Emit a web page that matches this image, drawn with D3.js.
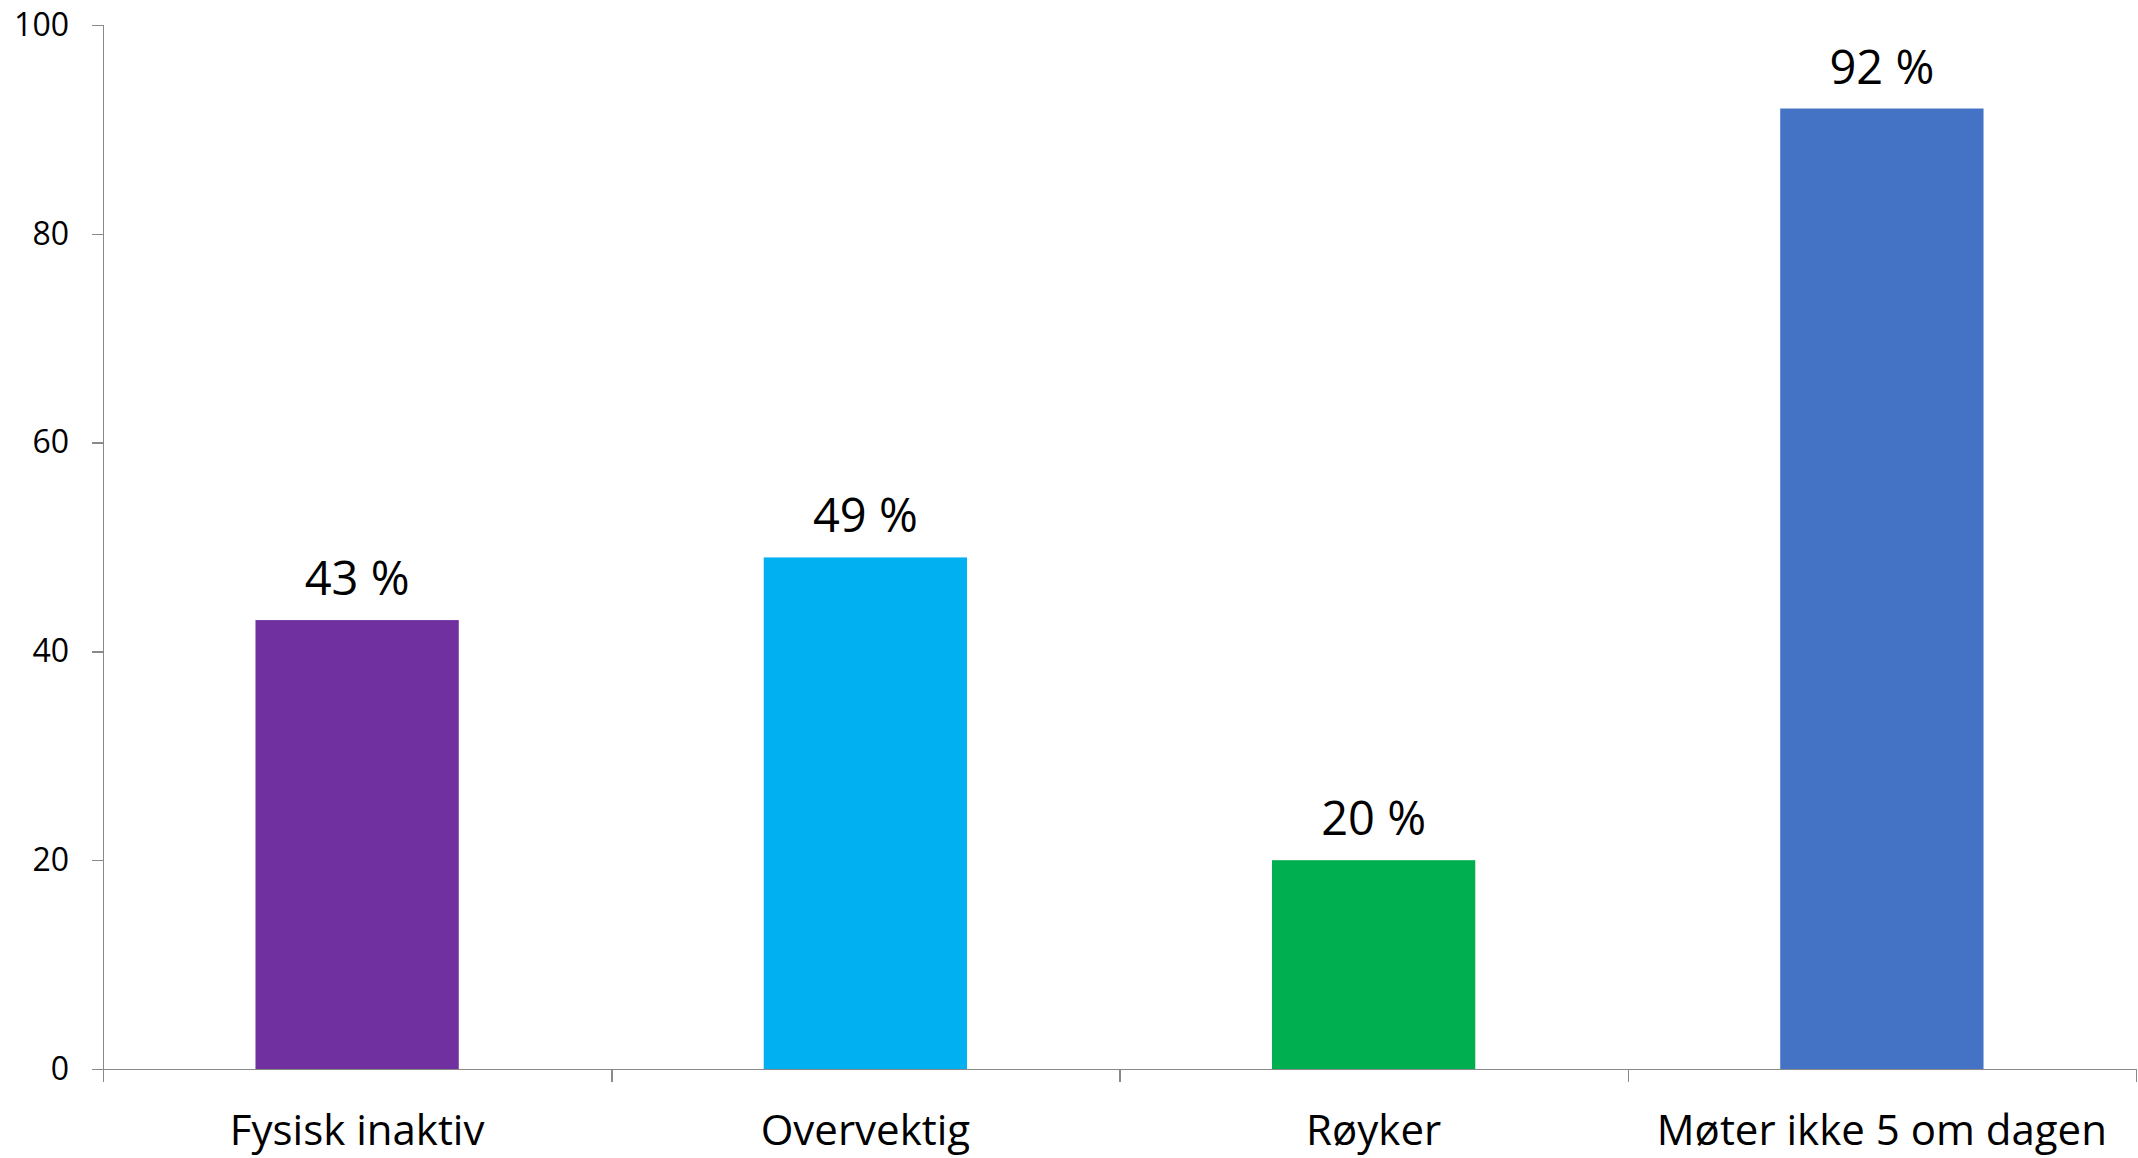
<!DOCTYPE html>
<html>
<head>
<meta charset="utf-8">
<script src="https://cdn.jsdelivr.net/npm/d3@7"></script>
<style>
  body { margin: 0; background: #fff; }
  svg { display: block; }
  .axis path, .axis line { stroke: #898989; stroke-width: 1.5; shape-rendering: crispEdges; }
  .axis text { fill: #000; font-family: "Open Sans", sans-serif; }
</style>
</head>
<body>
<div class="visHolder"></div>
<script>
// data
var categories = ['Fysisk inaktiv', 'Overvektig', 'Røyker', 'Møter ikke 5 om dagen'];
var values = [43, 49, 20, 92];
var barColors = ['#7030A0', '#00B0F0', '#00B050', '#4472C4'];
var yTicks = [0, 20, 40, 60, 80, 100];

// sizes (plot box edges)
var width = 2138,
    height = 1158,
    plotLeft = 103,
    plotRight = 2136,
    plotTop = 25,
    plotBottom = 1069;

var svg = d3.select('.visHolder').append('svg')
  .attr('width', width)
  .attr('height', height);

var xScale = d3.scaleBand()
  .domain(categories)
  .range([plotLeft, plotRight])
  .paddingInner(0.6)
  .paddingOuter(0.3);

var yScale = d3.scaleLinear()
  .domain([0, 100])
  .range([plotBottom, plotTop]);

// y axis
var yAxis = d3.axisLeft(yScale)
  .tickValues(yTicks)
  .tickSize(11)
  .tickPadding(23);

svg.append('g')
  .attr('class', 'axis')
  .attr('transform', 'translate(' + plotLeft + ',0)')
  .call(yAxis)
  .selectAll('text')
  .style('font-size', '32px');

// bars
svg.selectAll('rect.bar')
  .data(values)
  .enter()
  .append('rect')
  .attr('class', 'bar')
  .attr('x', function(d, i) { return xScale(categories[i]); })
  .attr('y', function(d) { return yScale(d); })
  .attr('width', xScale.bandwidth())
  .attr('height', function(d) { return yScale(0) - yScale(d); })
  .style('fill', function(d, i) { return barColors[i]; });

// value labels
svg.selectAll('text.value')
  .data(values)
  .enter()
  .append('text')
  .attr('class', 'value')
  .attr('x', function(d, i) { return xScale(categories[i]) + xScale.bandwidth() / 2; })
  .attr('y', function(d) { return yScale(d) - 25; })
  .attr('text-anchor', 'middle')
  .style('font-family', '"Open Sans", sans-serif')
  .style('font-size', '47px')
  .text(function(d) { return d + ' %'; });

// x axis: boundary ticks between categories
var edgeScale = d3.scaleLinear()
  .domain([0, categories.length])
  .range([plotLeft, plotRight]);

svg.append('g')
  .attr('class', 'axis')
  .attr('transform', 'translate(0,' + plotBottom + ')')
  .call(d3.axisBottom(edgeScale).ticks(categories.length).tickSize(13).tickFormat(''));

// category labels
svg.append('g')
  .attr('class', 'axis')
  .attr('transform', 'translate(0,' + plotBottom + ')')
  .call(d3.axisBottom(xScale).tickSize(0).tickPadding(0))
  .call(function(g) { g.select('.domain').remove(); })
  .selectAll('text')
  .attr('dy', null)
  .attr('y', 76)
  .style('font-size', '42px');
</script>
</body>
</html>
